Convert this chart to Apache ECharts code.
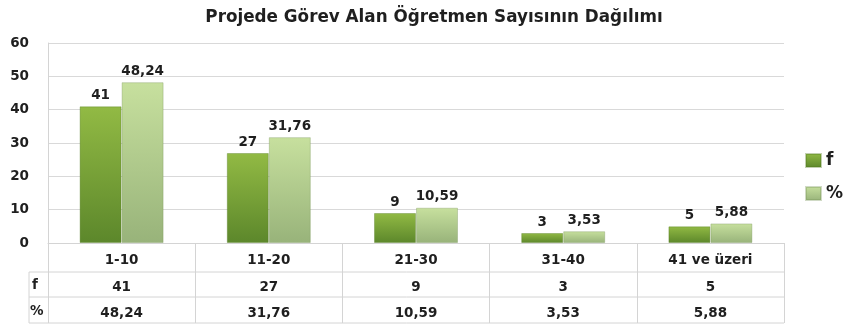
<!DOCTYPE html>
<html>
<head>
<meta charset="utf-8">
<script src="https://cdn.jsdelivr.net/npm/echarts@6/dist/echarts.min.js"></script>
<style>
  html, body { margin: 0; padding: 0; background: #fff; }
  #chart { width: 847px; height: 329px; }
</style>
</head>
<body>
<div id="chart"></div>
<script>
// Öğretmen sayısı dağılımı: kategoriler, frekans ve yüzde
const categories = ['1-10', '11-20', '21-30', '31-40', '41 ve üzeri'];
const freq = [41, 27, 9, 3, 5];
const pct = [48.24, 31.76, 10.59, 3.53, 5.88];
const yTicks = [0, 10, 20, 30, 40, 50, 60];

const FONT = '"DejaVu Sans", "Noto Sans", sans-serif';
const FS = 13.5;
const TEXT = '#1f1f1f';
const LINE = '#d4d4d4';
const fmt = v => String(v).replace('.', ',');

const chart = echarts.init(document.getElementById('chart'), null, { renderer: 'canvas' });

const G = { left: 48, right: 63, top: 43, bottom: 86 };
const plotRight = 847 - G.right;
const baseY = 329 - G.bottom;

function grad(top, bottom) {
  return new echarts.graphic.LinearGradient(0, 0, 0, 1, [
    { offset: 0, color: top },
    { offset: 1, color: bottom }
  ]);
}

const labelStyle = {
  show: true,
  position: 'top',
  distance: 4,
  fontFamily: FONT,
  fontWeight: 'bold',
  fontSize: FS,
  color: TEXT
};

// Alt tablo: satır çizgileri ve satır başlıkları
const tableParts = [];
const rowY = [baseY + 29, baseY + 54, baseY + 80];
rowY.forEach(y => tableParts.push({
  type: 'line', shape: { x1: 29, y1: y, x2: plotRight, y2: y },
  style: { stroke: LINE, lineWidth: 1 }, silent: true
}));
tableParts.push({
  type: 'line', shape: { x1: 29, y1: rowY[0], x2: 29, y2: rowY[2] },
  style: { stroke: LINE, lineWidth: 1 }, silent: true
});
tableParts.push({
  type: 'text', left: 32, top: rowY[0] + 6,
  style: { text: 'f', font: 'bold ' + FS + 'px ' + FONT, fill: TEXT }
});
tableParts.push({
  type: 'text', left: 30, top: rowY[1] + 7,
  style: { text: '%', font: 'bold ' + FS + 'px ' + FONT, fill: TEXT }
});

const option = {
  animation: false,
  backgroundColor: '#ffffff',
  title: {
    text: 'Projede Görev Alan Öğretmen Sayısının Dağılımı',
    left: 429,
    textAlign: 'center',
    top: 4,
    textStyle: { fontFamily: FONT, fontWeight: 'bold', fontSize: 16.8, color: TEXT }
  },
  legend: {
    orient: 'vertical',
    left: 805,
    top: 152,
    padding: 0,
    itemWidth: 15,
    itemHeight: 13,
    itemGap: 16,
    icon: 'rect',
    textStyle: { fontFamily: FONT, fontWeight: 'bold', fontSize: 17, color: TEXT },
    data: ['f', '%']
  },
  grid: G,
  xAxis: {
    type: 'category',
    data: categories,
    boundaryGap: true,
    axisLine: { show: true, lineStyle: { color: LINE } },
    axisTick: { show: true, length: 80, alignWithLabel: false, lineStyle: { color: LINE } },
    axisLabel: {
      interval: 0,
      margin: 4,
      formatter: (val, i) => '{c|' + val + '}\n{v|' + freq[i] + '}\n{v|' + fmt(pct[i]) + '}',
      rich: {
        c: { fontFamily: FONT, fontWeight: 'bold', fontSize: FS, color: TEXT, lineHeight: 27, height: 27 },
        v: { fontFamily: FONT, fontWeight: 'bold', fontSize: FS, color: TEXT, lineHeight: 26, height: 26 }
      }
    },
    splitLine: { show: false }
  },
  yAxis: {
    type: 'value',
    min: yTicks[0],
    max: yTicks[yTicks.length - 1],
    interval: 10,
    axisLine: { show: true, lineStyle: { color: LINE } },
    axisTick: { show: false },
    axisLabel: { fontFamily: FONT, fontWeight: 'bold', fontSize: FS, color: TEXT, margin: 19 },
    splitLine: { show: true, lineStyle: { color: '#d9d9d9', width: 1 } }
  },
  series: [
    {
      name: 'f',
      type: 'bar',
      data: freq,
      barWidth: 42,
      barGap: '0%',
      itemStyle: {
        color: grad('#92ba44', '#5c872b'),
        borderColor: 'rgba(80,120,30,0.35)',
        borderWidth: 1
      },
      label: Object.assign({}, labelStyle, { formatter: p => fmt(p.value) })
    },
    {
      name: '%',
      type: 'bar',
      data: pct,
      barWidth: 42,
      itemStyle: {
        color: grad('#c7e09e', '#98b37a'),
        borderColor: 'rgba(120,150,90,0.35)',
        borderWidth: 1
      },
      label: Object.assign({}, labelStyle, { formatter: p => fmt(p.value) })
    }
  ],
  graphic: tableParts
};

chart.setOption(option);
</script>
</body>
</html>
